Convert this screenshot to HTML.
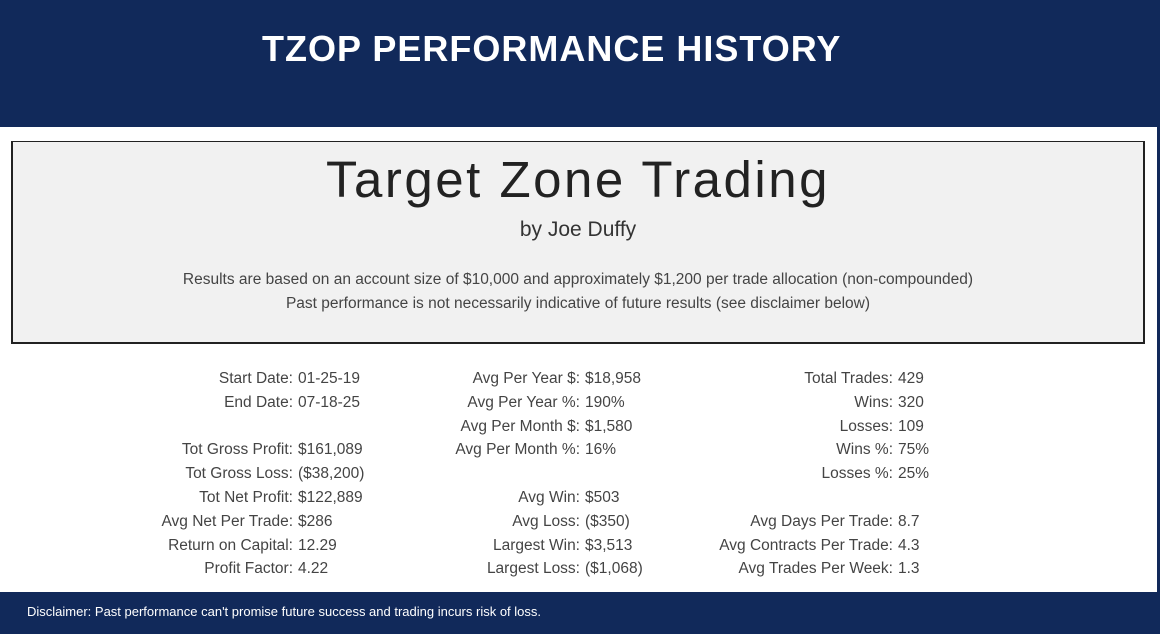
<!DOCTYPE html>
<html><head><meta charset="utf-8"><style>
*{margin:0;padding:0;box-sizing:border-box}
body{width:1160px;height:634px;position:relative;background:#fff;font-family:"Liberation Sans",sans-serif;overflow:hidden}
.hdr{position:absolute;left:0;top:0;width:1160px;height:127px;background:#11295a}
.hdr h1{position:absolute;left:262px;top:28px;color:#fff;font-size:36px;font-weight:bold;letter-spacing:1px}
.rb{position:absolute;right:0;top:127px;width:3px;height:470px;background:#11295a}
.ftr{position:absolute;left:0;top:592px;width:1160px;height:42px;background:#11295a;color:#fff;font-size:13px;padding:12px 0 0 27px}
.box{position:absolute;left:11px;top:141px;width:1134px;height:203px;background:#f1f1f1;border:2px solid #222;border-top-width:1px}
.c{position:absolute;left:0;width:100%;text-align:center;color:#333}
.t{top:8px;font-size:51px;font-weight:300;letter-spacing:2.5px;color:#222}
.s{top:76px;font-size:21px}
.l1{top:129px;font-size:15.5px;color:#444}
.l2{top:153px;font-size:15.5px;color:#444}
.r{position:absolute;font-size:15.5px;color:#444;white-space:nowrap;line-height:18px}
.k{position:absolute;text-align:right;width:300px}
</style></head><body>
<div class="hdr"><h1>TZOP PERFORMANCE HISTORY</h1></div>
<div class="rb"></div>
<div class="box">
<div class="c t">Target Zone Trading</div>
<div class="c s">by Joe Duffy</div>
<div class="c l1">Results are based on an account size of $10,000 and approximately $1,200 per trade allocation (non-compounded)</div>
<div class="c l2">Past performance is not necessarily indicative of future results (see disclaimer below)</div>
</div>
<div id="st"></div>
<div class="ftr">Disclaimer: Past performance can't promise future success and trading incurs risk of loss.</div>
<script>
var cols=[[293,[["Start Date","01-25-19"],["End Date","07-18-25"],null,["Tot Gross Profit","$161,089"],["Tot Gross Loss","($38,200)"],["Tot Net Profit","$122,889"],["Avg Net Per Trade","$286"],["Return on Capital","12.29"],["Profit Factor","4.22"]]],
[580,[["Avg Per Year $","$18,958"],["Avg Per Year %","190%"],["Avg Per Month $","$1,580"],["Avg Per Month %","16%"],null,["Avg Win","$503"],["Avg Loss","($350)"],["Largest Win","$3,513"],["Largest Loss","($1,068)"]]],
[893,[["Total Trades","429"],["Wins","320"],["Losses","109"],["Wins %","75%"],["Losses %","25%"],null,["Avg Days Per Trade","8.7"],["Avg Contracts Per Trade","4.3"],["Avg Trades Per Week","1.3"]]]];
var h="";
cols.forEach(function(c){c[1].forEach(function(r,i){if(!r)return;var y=370+i*23.8;
h+='<div class="r k" style="left:'+(c[0]-300)+'px;top:'+y+'px">'+r[0]+':</div><div class="r" style="left:'+(c[0]+5)+'px;top:'+y+'px">'+r[1]+'</div>';});});
document.getElementById("st").innerHTML=h;
</script>
</body></html>
